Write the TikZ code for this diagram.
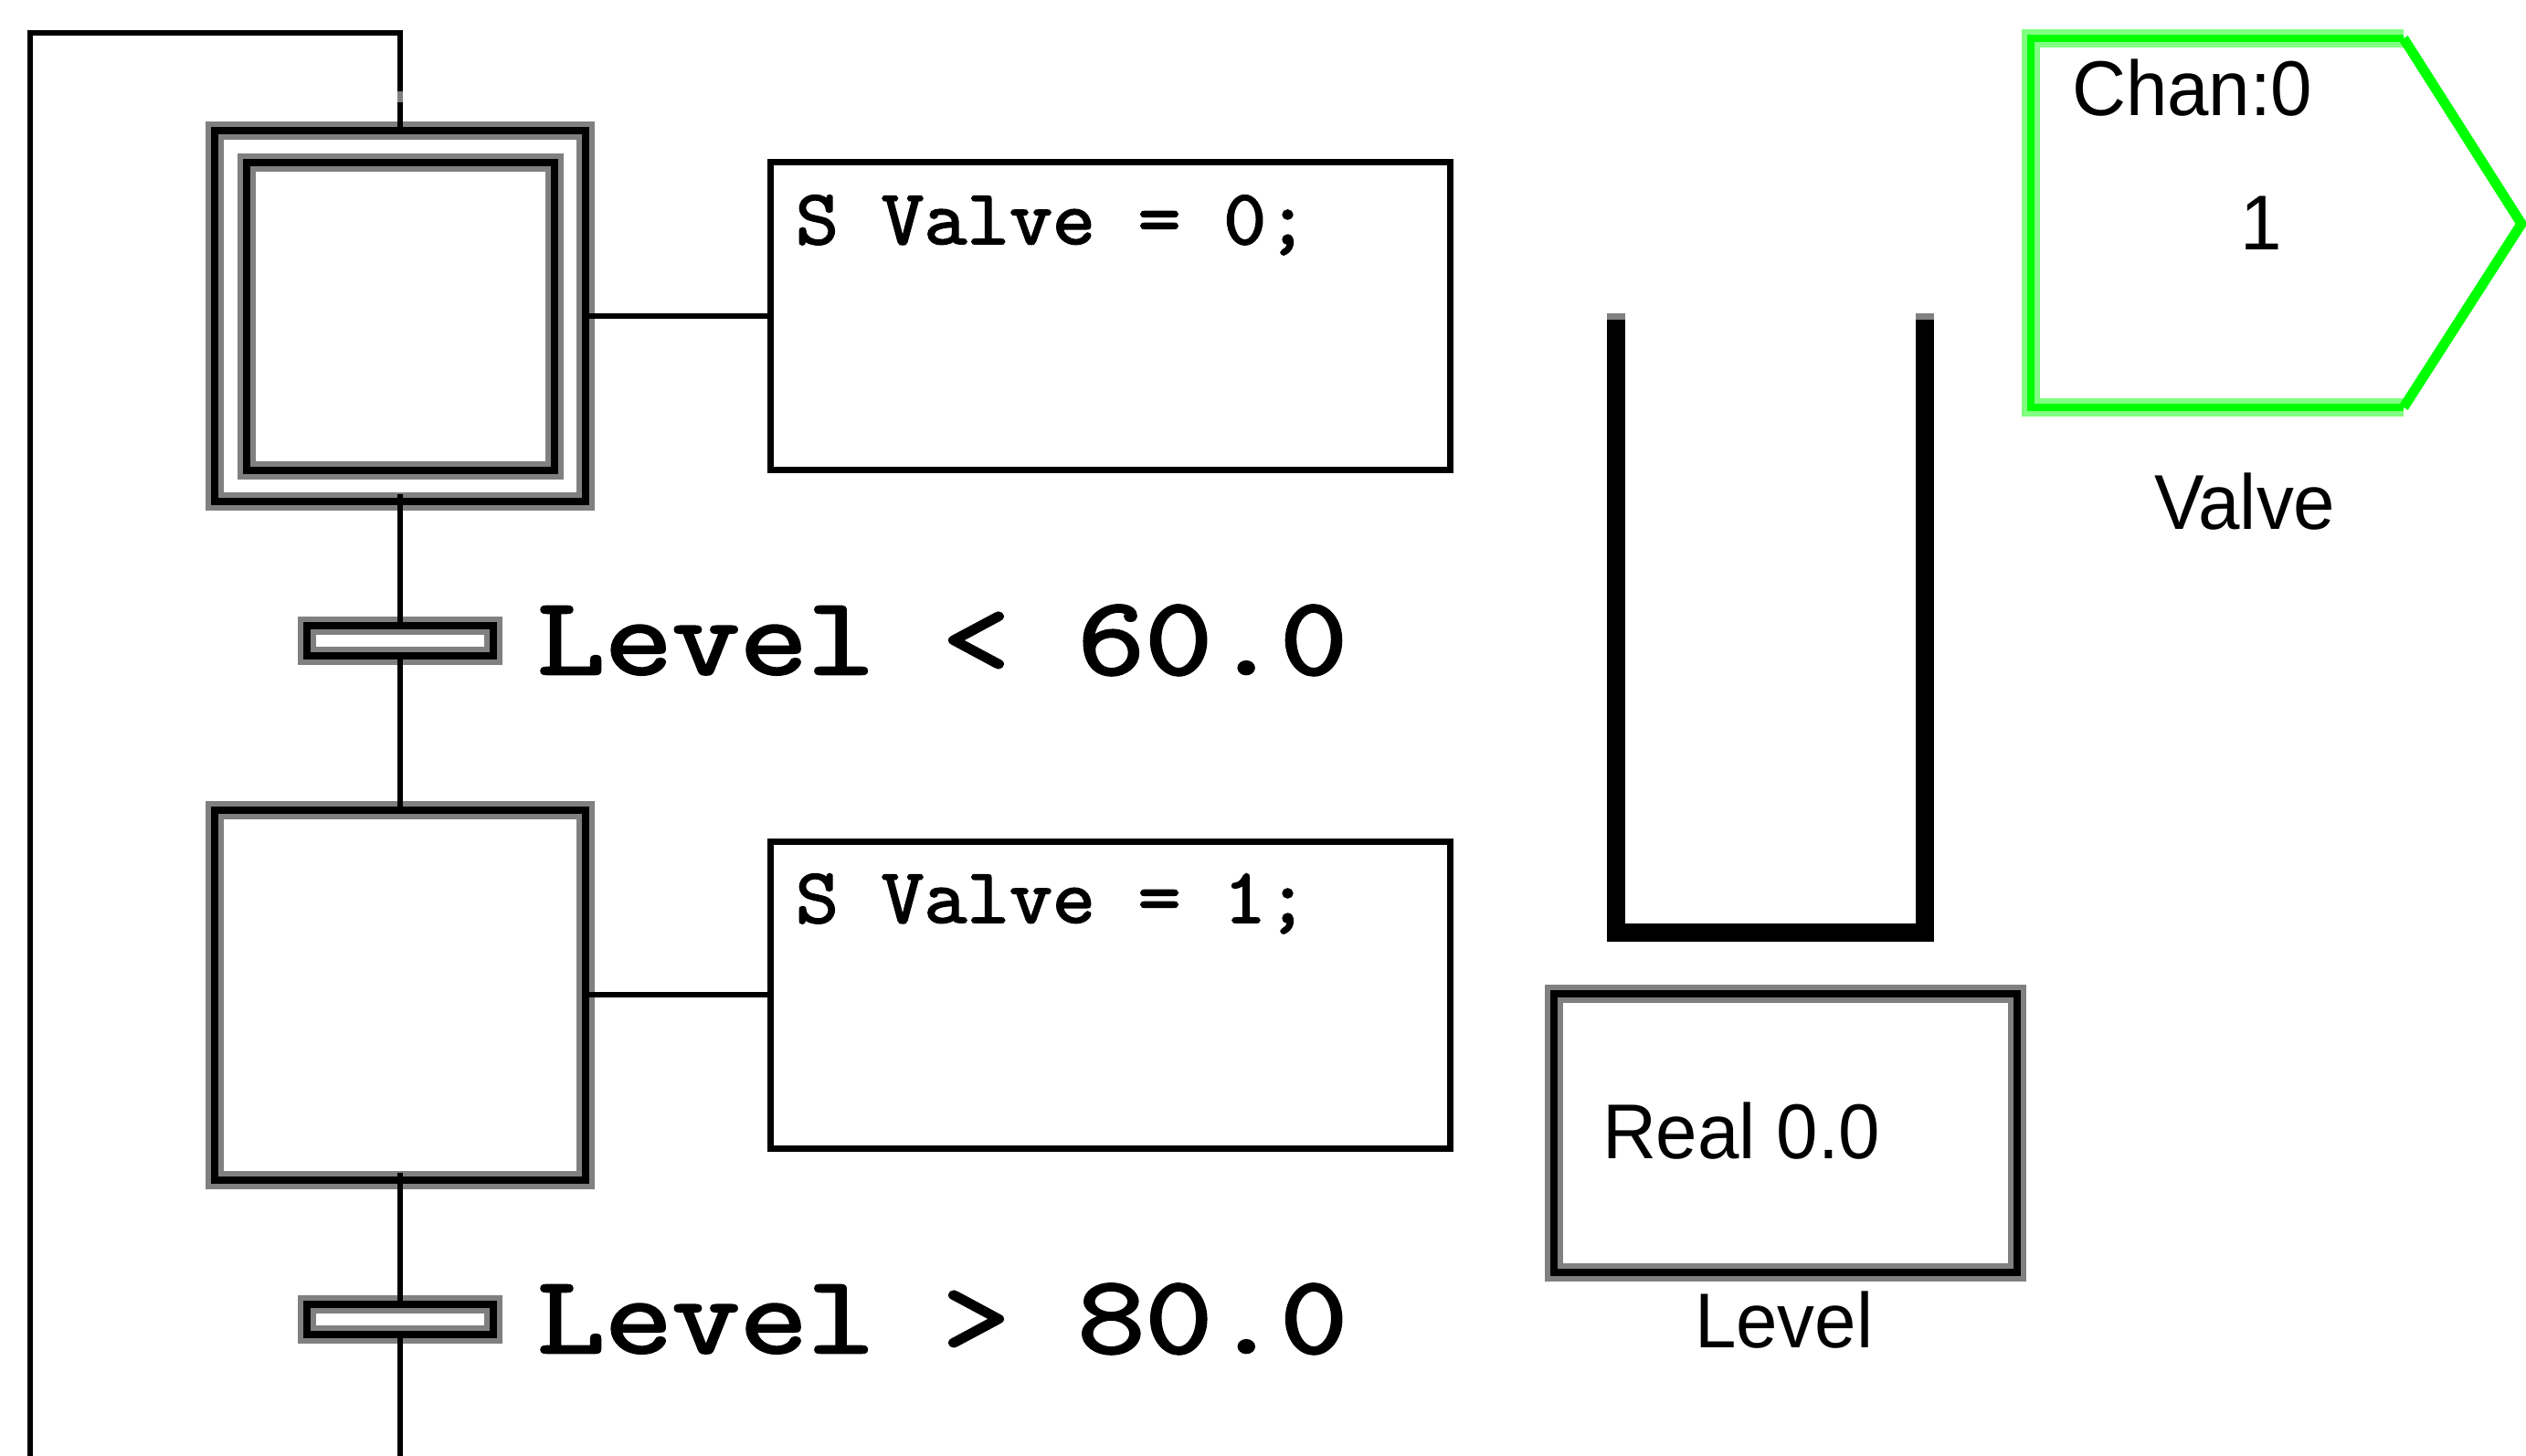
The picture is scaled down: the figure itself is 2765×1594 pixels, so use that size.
\documentclass[tikz,border=0pt]{standalone}
\usepackage{graphicx}
\usepackage{fontspec}
\setmainfont{Liberation Sans}
\newfontfamily\plcmono[FakeBold=2.2]{Latin Modern Mono}
\definecolor{halogray}{HTML}{808080}
\definecolor{plcgreen}{HTML}{00FF00}
\definecolor{halogreen}{HTML}{80FF80}
\def\px{0.01cm}
\newcommand{\monobig}[1]{\scalebox{1.018}[0.86]{\fontsize{40.1pt}{48pt}\selectfont\plcmono #1}}
\newcommand{\monosmall}[1]{\scalebox{1.01}[0.95]{\fontsize{25.6pt}{30pt}\selectfont\plcmono #1}}
\newcommand{\sanslabel}[1]{\scalebox{0.96}[1]{\fontsize{24.2pt}{29pt}\selectfont #1}}
\tikzset{
  x=0.01cm,y=-0.01cm,
  wire/.style={draw=black,line width=6*\px},
  stepbox/.style={rectangle,inner sep=0pt,outer sep=0pt,draw=black,line width=8*\px,
    preaction={draw=halogray,line width=20*\px}},
  actionbox/.style={rectangle,inner sep=0pt,outer sep=0pt,draw=black,line width=7*\px,
    minimum width=744*\px,minimum height=336*\px},
  txt/.style={inner sep=0pt,outer sep=0pt,anchor=base west,text=black},
  stub/.style={draw=halogray},
}
\begin{document}
\begin{tikzpicture}
\useasboundingbox (0,0) rectangle (2765,1594);
\fill[white] (0,0) rectangle (2765,1594);
% SFC steps
\node[stepbox,minimum width=406*\px,minimum height=405*\px] (s1) at (438,346) {};
\node[stepbox,minimum width=337*\px,minimum height=337*\px] (s1i) at (438,346.5) {};
\node[stepbox,minimum width=204*\px,minimum height=33*\px] (t1) at (438,701.5) {};
\node[stepbox,minimum width=406*\px,minimum height=405*\px] (s2) at (438,1089) {};
\node[stepbox,minimum width=204*\px,minimum height=33*\px] (t2) at (438,1444.5) {};
% action boxes
\node[actionbox] (a1) at (1215,346) {};
\node[actionbox] (a2) at (1215,1089) {};
% free ends of the loop
\coordinate (bot) at (438,1594);
\coordinate (botl) at (33,1594);
\coordinate (topl) at (33,36);
\coordinate (topr) at (438,36);
% connectors
\draw[wire,line cap=rect] (botl) -- (topl) -- (topr) -- (s1.north);
\draw[stub,line width=6*\px] (438,100) -- (438,112);
\draw[wire] ([yshift=8*\px]s1.south) -- (t1.north);
\draw[wire] (t1.south) -- (s2.north);
\draw[wire] ([yshift=8*\px]s2.south) -- (t2.north);
\draw[wire] (t2.south) -- (bot);
\draw[wire] (s1.east) -- (a1.west);
\draw[wire] (s2.east) -- (a2.west);
% texts
\node[txt] (ta1) at (871,267) {\monosmall{S Valve = 0;}};
\node[txt] (ta2) at (871,1010) {\monosmall{S Valve = 1;}};
\node[txt] (tt1) at (588,738) {\monobig{Level < 60.0}};
\node[txt] (tt2) at (588,1481) {\monobig{Level > 80.0}};
% tank
\draw[draw=black,line width=20*\px,miter limit=10] (1769,350) -- (1769,1021) -- (2107,1021) -- (2107,350);
\draw[stub,line width=20*\px] (1769,343) -- (1769,350);
\draw[stub,line width=20*\px] (2107,343) -- (2107,350);
% level display
\node[stepbox,minimum width=507*\px,minimum height=305*\px] (lvl) at (1954.5,1240.5) {};
\node[txt] (lv) at (1754,1268) {\sanslabel{Real 0.0}};
\node[txt] (ll) at (1855,1475) {\sanslabel{Level}};
% valve output
\draw[draw=halogreen,line width=20*\px,line cap=butt] (2631,42) -- (2222.5,42) -- (2222.5,446) -- (2631,446);
\draw[draw=plcgreen,line width=8*\px] (2631,42) -- (2222.5,42) -- (2222.5,446) -- (2631,446);
\draw[draw=plcgreen,line width=11*\px,miter limit=10] (2631,42) -- (2760,245) -- (2631,446);
\node[txt] (ch) at (2268,127) {\sanslabel{Chan:0}};
\node[txt] (one) at (2452,274) {\sanslabel{1}};
\node[txt] (vl) at (2358,580) {\sanslabel{Valve}};
\end{tikzpicture}
\end{document}
